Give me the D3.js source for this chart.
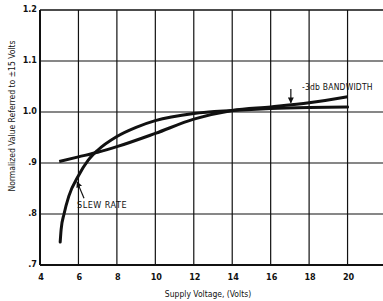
<!DOCTYPE html>
<html>
<head>
<meta charset="utf-8">
<script src="https://cdn.jsdelivr.net/npm/d3@7"></script>
<style>
  body { margin: 0; background: #fff; }
  text { font-family: "DejaVu Sans", sans-serif; font-stretch: condensed; fill: #111; }
</style>
</head>
<body>
<script>
// ====== data ======
const xTicks = [4, 6, 8, 10, 12, 14, 16, 18, 20]
const yTicks = [0.7, 0.8, 0.9, 1.0, 1.1, 1.2]
const yTickLabels = [".7", ".8", ".9", "1.0", "1.1", "1.2"]

const slewX = [5.05, 5.1, 5.25, 5.5, 6, 6.5, 7, 8, 9, 10, 12, 14, 16, 18, 20]
const slewY = [0.745, 0.77, 0.80, 0.835, 0.875, 0.905, 0.925, 0.952, 0.970, 0.983, 0.997, 1.003, 1.007, 1.009, 1.01]

const bwX = [5, 6, 7, 8, 10, 12, 14, 16, 18, 20]
const bwY = [0.903, 0.912, 0.921, 0.932, 0.958, 0.986, 1.003, 1.01, 1.018, 1.03]

const width = 383, height = 301

const x = d3.scaleLinear().domain([4, 22]).range([40, 386])
const y = d3.scaleLinear().domain([0.7, 1.2]).range([265, 10])

const svg = d3.select("body").append("svg")
  .attr("width", width).attr("height", height)

// ====== grid ======
const grid = svg.append("g").attr("stroke", "#111").attr("stroke-width", 1.2)
grid.selectAll("line.v").data(xTicks.slice(1)).join("line")
  .attr("x1", d => x(d)).attr("x2", d => x(d))
  .attr("y1", y(1.2)).attr("y2", y(0.7))
grid.selectAll("line.h").data(yTicks.slice(1, -1)).join("line")
  .attr("x1", x(4)).attr("x2", width)
  .attr("y1", d => y(d)).attr("y2", d => y(d))

// frame
svg.append("line").attr("x1", x(4)).attr("x2", width).attr("y1", y(1.2)).attr("y2", y(1.2))
  .attr("stroke", "#111").attr("stroke-width", 1.6)
svg.append("line").attr("x1", x(4)).attr("x2", width).attr("y1", y(0.7)).attr("y2", y(0.7))
  .attr("stroke", "#111").attr("stroke-width", 2)
svg.append("line").attr("x1", x(4)).attr("x2", x(4)).attr("y1", y(1.2)).attr("y2", y(0.7))
  .attr("stroke", "#111").attr("stroke-width", 2)

// ====== tick labels ======
svg.append("g").selectAll("text").data(xTicks).join("text")
  .attr("x", d => x(d) + 1).attr("y", 280)
  .attr("text-anchor", "middle")
  .attr("font-size", 9).attr("font-weight", "bold")
  .text(d => d)

svg.append("g").selectAll("text").data(yTicks).join("text")
  .attr("x", 37).attr("y", d => y(d) + 2)
  .attr("text-anchor", "end")
  .attr("font-size", 9).attr("font-weight", "bold")
  .text((d, i) => yTickLabels[i])

// axis titles
svg.append("text")
  .attr("x", 208).attr("y", 297)
  .attr("text-anchor", "middle").attr("font-size", 8.5)
  .text("Supply Voltage, (Volts)")

svg.append("text")
  .attr("transform", "translate(15,116) rotate(-90)")
  .attr("text-anchor", "middle").attr("font-size", 8.5)
  .text("Normalized Value Referred to \u00b115 Volts")

// ====== curves ======
const line = d3.line().x(d => x(d[0])).y(d => y(d[1])).curve(d3.curveMonotoneX)

svg.append("path")
  .datum(slewX.map((d, i) => [d, slewY[i]]))
  .attr("d", line).attr("fill", "none")
  .attr("stroke", "#111").attr("stroke-width", 3).attr("stroke-linecap", "round")

svg.append("path")
  .datum(bwX.map((d, i) => [d, bwY[i]]))
  .attr("d", line).attr("fill", "none")
  .attr("stroke", "#111").attr("stroke-width", 3).attr("stroke-linecap", "butt")

// ====== annotations ======
svg.append("defs").append("marker")
  .attr("id", "arr").attr("viewBox", "0 0 10 10").attr("refX", 9).attr("refY", 5)
  .attr("markerWidth", 5).attr("markerHeight", 5).attr("orient", "auto")
  .append("path").attr("d", "M0,0 L10,5 L0,10 z").attr("fill", "#111")

svg.append("text")
  .attr("x", 77).attr("y", 208)
  .attr("font-size", 9).attr("letter-spacing", 0.5)
  .text("SLEW RATE")
svg.append("line")
  .attr("x1", x(6.29)).attr("y1", y(0.831)).attr("x2", x(5.93)).attr("y2", y(0.863))
  .attr("stroke", "#111").attr("stroke-width", 1.2).attr("marker-end", "url(#arr)")

svg.append("text")
  .attr("x", 302).attr("y", 90)
  .attr("font-size", 8.5).attr("letter-spacing", 0.2)
  .text("-3db BANDWIDTH")
svg.append("line")
  .attr("x1", x(17.05)).attr("y1", y(1.045)).attr("x2", x(17.05)).attr("y2", y(1.018))
  .attr("stroke", "#111").attr("stroke-width", 1.2).attr("marker-end", "url(#arr)")
</script>
</body>
</html>
